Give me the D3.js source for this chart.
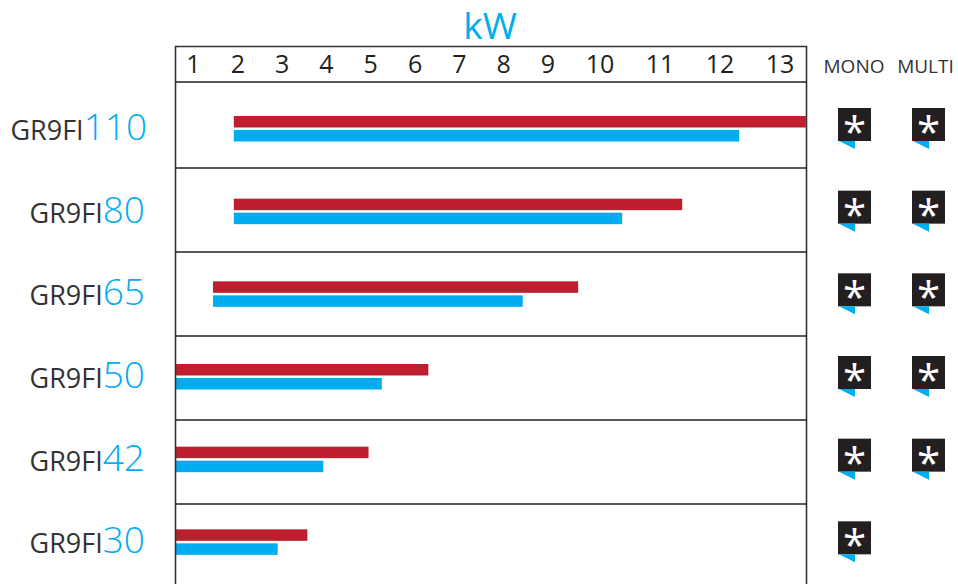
<!DOCTYPE html>
<html>
<head>
<meta charset="utf-8">
<script src="https://cdn.jsdelivr.net/npm/d3@7"></script>
<style>
  html, body { margin: 0; padding: 0; background: #fff; overflow: hidden; }
  text { font-family: "Open Sans", sans-serif; }
</style>
</head>
<body>
<div id="chart"></div>
<script>
const prefix = 'GR9FI'
const models = ['110', '80', '65', '50', '42', '30']
const ticks = [1, 2, 3, 4, 5, 6, 7, 8, 9, 10, 11, 12, 13]
// kW range for each model
const redMin = [1.91, 1.91, 1.44, 0.6, 0.6, 0.6]
const redMax = [13.43, 11.37, 9.58, 6.3, 4.95, 3.57]
const blueMin = [1.91, 1.91, 1.44, 0.6, 0.6, 0.6]
const blueMax = [12.32, 10.37, 8.43, 5.25, 3.93, 2.9]
const mono = [1, 1, 1, 1, 1, 1]
const multi = [1, 1, 1, 1, 1, 0]
const columns = ['MONO', 'MULTI']

const RED = '#be1e2d', BLUE = '#00aeef', INK = '#231f20'
const width = 958, height = 584

let svg = d3.select('#chart').append('svg')
  .attr('width', width)
  .attr('height', height)
  .style('display', 'block')

// the axis is not even: the last units are wider than the first ones
let x = d3.scaleLinear()
  .domain([1, 9, 10, 13])
  .range([193.5, 548, 600, 780])

// the rows of the frame and the rows of the marks have a slightly different pitch
let rowY = d3.scaleBand().domain(models).range([84, 588])
let markY = d3.scaleBand().domain(models).range([80, 576])

let frameL = 175.5, frameR = 806.5, frameT = 46.5, headerY = 82

// bars
let clip = svg.append('clipPath').attr('id', 'plot')
clip.append('rect')
  .attr('x', frameL)
  .attr('y', frameT)
  .attr('width', frameR - frameL)
  .attr('height', height - frameT)

let bars = svg.append('g').attr('clip-path', 'url(#plot)')

bars.selectAll('rect.red')
  .data(models)
  .join('rect')
  .attr('class', 'red')
  .attr('x', (d, i) => x(redMin[i]))
  .attr('y', d => markY(d) + 36)
  .attr('width', (d, i) => x(redMax[i]) - x(redMin[i]))
  .attr('height', 11.5)
  .attr('fill', RED)

bars.selectAll('rect.blue')
  .data(models)
  .join('rect')
  .attr('class', 'blue')
  .attr('x', (d, i) => x(blueMin[i]))
  .attr('y', d => markY(d) + 50)
  .attr('width', (d, i) => x(blueMax[i]) - x(blueMin[i]))
  .attr('height', 11.5)
  .attr('fill', BLUE)

// frame
svg.append('path')
  .attr('d', `M${frameL},${height}V${frameT}H${frameR}V${height}`)
  .attr('fill', 'none')
  .attr('stroke', '#333')
  .attr('stroke-width', 1.6)

svg.selectAll('line.row')
  .data(models)
  .join('line')
  .attr('class', 'row')
  .attr('x1', frameL)
  .attr('x2', frameR)
  .attr('y1', (d, i) => i ? rowY(d) : headerY)
  .attr('y2', (d, i) => i ? rowY(d) : headerY)
  .attr('stroke', INK)
  .attr('stroke-width', 1.5)

svg.append('text')
  .attr('x', 490)
  .attr('y', 39)
  .attr('text-anchor', 'middle')
  .attr('fill', BLUE)
  .attr('font-size', 37)
  .text('kW')

svg.selectAll('text.tick')
  .data(ticks)
  .join('text')
  .attr('class', 'tick')
  .attr('x', d => x(d))
  .attr('y', 73)
  .attr('text-anchor', 'middle')
  .attr('fill', INK)
  .attr('font-size', 25)
  .text(d => d)

svg.selectAll('text.col')
  .data(columns)
  .join('text')
  .attr('class', 'col')
  .attr('x', (d, i) => 854 + i * 71.5)
  .attr('y', 73)
  .attr('text-anchor', 'middle')
  .attr('fill', '#333')
  .attr('font-size', 19)
  .text(d => d)

// labels
let labels = svg.selectAll('text.label')
  .data(models)
  .join('text')
  .attr('class', 'label')
  .attr('x', d => d === '110' ? 147 : 145)
  .attr('y', d => markY(d) + 60)
  .attr('text-anchor', 'end')
labels.append('tspan')
  .attr('font-size', 27)
  .attr('fill', '#333')
  .text(prefix)
labels.append('tspan')
  .attr('font-size', 37)
  .attr('font-weight', 300)
  .attr('fill', BLUE)
  .text(d => d)

// availability badges
function badges(flags, bx) {
  let g = svg.append('g')
    .selectAll('g')
    .data(models.filter((d, i) => flags[i]))
    .join('g')
    .attr('transform', d => `translate(${bx},${markY(d) + 28})`)

  g.append('rect')
    .attr('width', 33)
    .attr('height', 33)
    .attr('fill', INK)

  g.append('path')
    .attr('d', 'M1,33H17V41Z')
    .attr('fill', BLUE)

  g.append('text')
    .attr('x', 16.5)
    .attr('y', 39)
    .attr('text-anchor', 'middle')
    .attr('fill', '#fff')
    .attr('font-size', 42)
    .text('*')
}

badges(mono, 838)
badges(multi, 912)
</script>
</body>
</html>
